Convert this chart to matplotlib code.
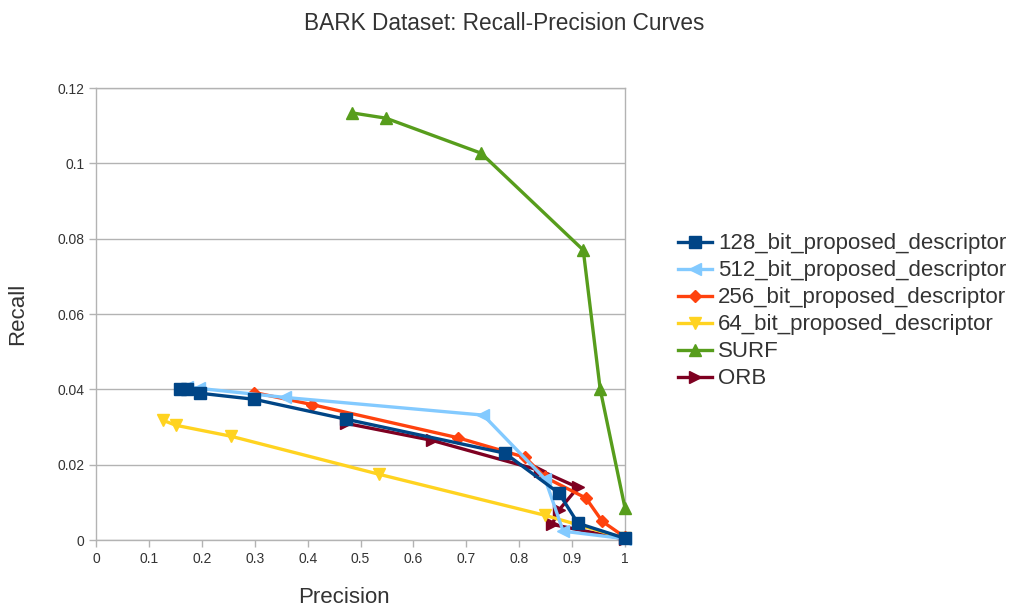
import matplotlib
matplotlib.use("Agg")
import matplotlib.pyplot as plt
from matplotlib.ticker import FuncFormatter

plt.rcParams['font.family'] = ['Liberation Sans', 'DejaVu Sans']

series_names = [
    "128_bit_proposed_descriptor",
    "512_bit_proposed_descriptor",
    "256_bit_proposed_descriptor",
    "64_bit_proposed_descriptor",
    "SURF",
    "ORB",
]

p128 = [0.159, 0.172, 0.197, 0.299, 0.473, 0.773, 0.875, 0.911, 1.0]
r128 = [0.0401, 0.0401, 0.0390, 0.0374, 0.0321, 0.0231, 0.0125, 0.0045, 0.0005]

p512 = [0.172, 0.195, 0.357, 0.732, 0.849, 0.883, 1.0]
r512 = [0.0407, 0.0403, 0.0379, 0.0332, 0.0162, 0.0024, 0.0004]

p256 = [0.299, 0.408, 0.684, 0.811, 0.849, 0.926, 0.957, 1.0]
r256 = [0.0392, 0.0360, 0.0272, 0.0220, 0.0167, 0.0112, 0.0050, 0.0008]

p64 = [0.127, 0.151, 0.255, 0.535, 0.849, 1.0]
r64 = [0.0318, 0.0305, 0.0276, 0.0175, 0.0066, 0.0005]

p_surf = [0.484, 0.548, 0.728, 0.921, 0.953, 1.0]
r_surf = [0.1134, 0.1120, 0.1027, 0.0770, 0.0401, 0.0085]

p_orb = [0.473, 0.635, 0.840, 0.911, 0.875, 0.862, 1.0]
r_orb = [0.0310, 0.0265, 0.0185, 0.0140, 0.0080, 0.0042, 0.0003]

x_ticks = [0, 0.1, 0.2, 0.3, 0.4, 0.5, 0.6, 0.7, 0.8, 0.9, 1]
y_ticks = [0, 0.02, 0.04, 0.06, 0.08, 0.1, 0.12]

colors = ["#004586", "#83caff", "#ff420e", "#ffd320", "#579d1c", "#7e0021"]
markers = ["s", "<", "D", "v", "^", ">"]
msizes = [8, 8, 6, 8, 8, 8]
data = [(p128, r128), (p512, r512), (p256, r256), (p64, r64),
        (p_surf, r_surf), (p_orb, r_orb)]
zorders = [8, 7, 6, 5, 4, 3]

fig = plt.figure(figsize=(10.15, 6.07), dpi=100)
ax = fig.add_axes([0.0946, 0.110, 0.5212, 0.745])

for (xs, ys), name, c, m, ms, z in zip(data, series_names, colors, markers, msizes, zorders):
    ax.plot(xs, ys, color=c, marker=m, markersize=ms, linewidth=2.4,
            label=name, zorder=z, clip_on=False)

ax.set_xlim(0, 1)
ax.set_ylim(0, 0.12)
ax.set_xticks(x_ticks)
ax.set_yticks(y_ticks)
fmt = FuncFormatter(lambda v, pos: "%g" % v)
ax.xaxis.set_major_formatter(fmt)
ax.yaxis.set_major_formatter(fmt)
ax.tick_params(axis='both', labelsize=10, colors="#b3b3b3", labelcolor="#333333",
               length=5, width=1, direction='out')
ax.yaxis.grid(True, color="#b3b3b3", linewidth=1)
ax.set_axisbelow(True)
for s in ax.spines.values():
    s.set_color("#b3b3b3")
    s.set_linewidth(1)

ax.set_xlabel("Precision", fontsize=16, color="#333333")
ax.xaxis.set_label_coords(0.468, -0.104)
ax.set_ylabel("Recall", fontsize=16, color="#333333")
ax.yaxis.set_label_coords(-0.128, 0.5)

fig.text(0.497, 0.962, "BARK Dataset: Recall-Precision Curves", ha="center",
         va="center", fontsize=16.3, color="#333333")

leg = ax.legend(loc="center left", bbox_to_anchor=(1.10, 0.506), frameon=False,
                fontsize=16, handlelength=1.55, handletextpad=0.25,
                labelspacing=0.27, borderaxespad=0, borderpad=0)
for t in leg.get_texts():
    t.set_color("#333333")

fig.savefig("out.png", dpi=100)
